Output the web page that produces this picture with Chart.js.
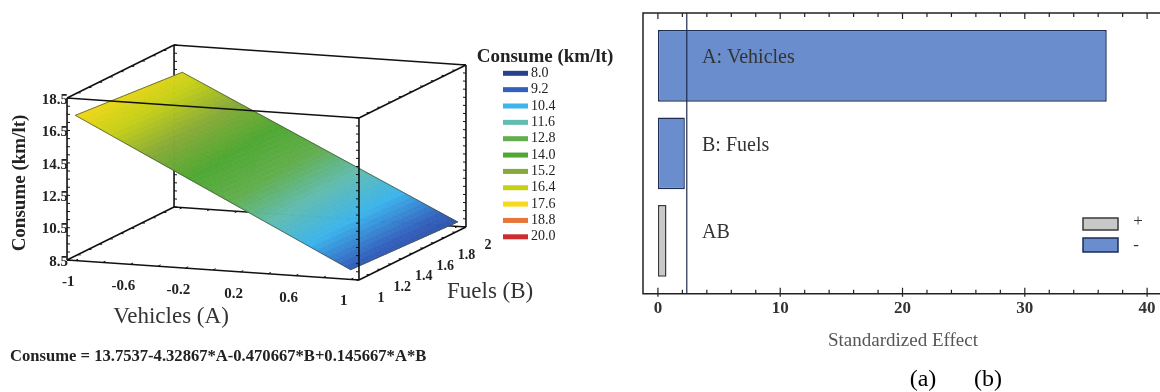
<!DOCTYPE html>
<html>
<head>
<meta charset="utf-8">
<script src="https://cdn.jsdelivr.net/npm/chart.js@4.4.1/dist/chart.umd.min.js"></script>
<style>
  html, body { margin: 0; padding: 0; background: #fff; }
  body { width: 1160px; height: 392px; overflow: hidden; position: relative;
         font-family: "Liberation Serif", "DejaVu Serif", serif; }
  #surfWrap { position: absolute; left: 0; top: 0; width: 630px; height: 392px; }
  #paretoWrap { position: absolute; left: 630px; top: 0; width: 545px; height: 392px; }
  #equation { position: absolute; left: 10px; top: 346px; font-weight: bold; font-size: 16.6px;
              color: #222; white-space: nowrap; }
  .cap { position: absolute; top: 365px; font-size: 24px; color: #000; transform: translateX(-50%); }
</style>
</head>
<body>
<div id="surfWrap"><canvas id="surface" width="630" height="392"></canvas></div>
<div id="paretoWrap"><canvas id="pareto" width="545" height="392"></canvas></div>
<div id="equation"></div>
<div class="cap" style="left:923px">(a)</div>
<div class="cap" style="left:988px">(b)</div>

<script>
// ---------- response surface: Consume vs Vehicles (A) and Fuels (B) ----------
const vehicleTicks = [-1, -0.6, -0.2, 0.2, 0.6, 1];
const fuelTicks = [1, 1.2, 1.4, 1.6, 1.8, 2];
const consumeTicks = [8.5, 10.5, 12.5, 14.5, 16.5, 18.5];
const vehicleRange = [-1, 1];
const fuelRange = [1, 2];
// fitted model: Consume = c0 + c1*A + c2*B + c3*A*B
const modelCoefs = [13.7537, -4.32867, -0.470667, 0.145667];
const legendLevels = [8.0, 9.2, 10.4, 11.6, 12.8, 14.0, 15.2, 16.4, 17.6, 18.8, 20.0];
const legendColors = ['#28408e', '#3460bc', '#3cb4ec', '#62bcb0', '#62ae4c', '#4ea832',
                      '#86aa38', '#c6d018', '#f8d81a', '#e8763a', '#cc2c30'];

// ---------- Pareto chart of standardized effects ----------
const effectNames = ['A: Vehicles', 'B: Fuels', 'AB'];
const effectValues = [36.7, 2.2, 0.7];
const effectSigns = ['-', '-', '+'];
const effectCritical = 2.36;
const effectTicks = [0, 10, 20, 30, 40];

const SERIF = '"Liberation Serif", "DejaVu Serif", serif';
Chart.defaults.font.family = SERIF;

function fmtCoef(v) { return (v >= 0 ? '+' : '') + v; }
function consume(a, b) {
  const [c0, c1, c2, c3] = modelCoefs;
  return c0 + c1 * a + c2 * b + c3 * a * b;
}
document.getElementById('equation').textContent =
  'Consume = ' + modelCoefs[0] + fmtCoef(modelCoefs[1]) + '*A' + fmtCoef(modelCoefs[2]) + '*B' +
  fmtCoef(modelCoefs[3]) + '*A*B';

// oblique view of the (A, B, Consume) box onto the canvas plane
const view = { ox: 213, oy: 270, ax: 137.7, ay: 9.43, bx: 107, by: -53, zy: -16.2 };
const box = { a: [-1.06, 1.06], b: [1, 2], z: [8.5, 18.5] };
function project(a, b, z) {
  return { x: view.ox + view.ax * a + view.bx * (b - box.b[0]),
           y: view.oy + view.ay * a + view.by * (b - box.b[0]) + view.zy * (z - box.z[0]) };
}

function hexRgb(h) { const n = parseInt(h.slice(1), 16); return [n >> 16 & 255, n >> 8 & 255, n & 255]; }
const legendRgb = legendColors.map(hexRgb);
function consumeColor(z) {
  const L = legendLevels;
  if (z <= L[0]) return 'rgb(' + legendRgb[0] + ')';
  if (z >= L[L.length - 1]) return 'rgb(' + legendRgb[L.length - 1] + ')';
  let i = 0; while (z > L[i + 1]) i++;
  const t = (z - L[i]) / (L[i + 1] - L[i]);
  const c = legendRgb[i].map((v, k) => Math.round(v + (legendRgb[i + 1][k] - v) * t));
  return 'rgb(' + c + ')';
}

const [A0, A1] = box.a, [B0, B1] = box.b, [Z0, Z1] = box.z;
const frontEdges = [
  [[A0, B0, Z0], [A0, B0, Z1]], [[A1, B0, Z0], [A1, B0, Z1]],
  [[A0, B0, Z0], [A1, B0, Z0]], [[A0, B0, Z1], [A1, B0, Z1]],
  [[A0, B0, Z1], [A0, B1, Z1]], [[A1, B0, Z1], [A1, B1, Z1]],
  [[A0, B1, Z1], [A1, B1, Z1]], [[A1, B0, Z0], [A1, B1, Z0]],
  [[A1, B1, Z0], [A1, B1, Z1]]
];
const backEdges = [
  [[A0, B1, Z0], [A0, B1, Z1]], [[A0, B1, Z0], [A1, B1, Z0]], [[A0, B0, Z0], [A0, B1, Z0]]
];
function edgeDataset(e) {
  return { data: e.map(p => project(...p)), showLine: true, pointRadius: 0,
           borderColor: '#111', borderWidth: 1.6 };
}

// surface boundary traced through the fitted model
const NA = 48, NB = 24;
const aStep = (vehicleRange[1] - vehicleRange[0]) / NA;
const bStep = (fuelRange[1] - fuelRange[0]) / NB;
const outline = [];
for (let i = 0; i <= NA; i++) { const a = vehicleRange[0] + i * aStep; outline.push(project(a, fuelRange[0], consume(a, fuelRange[0]))); }
for (let j = 1; j <= NB; j++) { const b = fuelRange[0] + j * bStep; outline.push(project(vehicleRange[1], b, consume(vehicleRange[1], b))); }
for (let i = NA - 1; i >= 0; i--) { const a = vehicleRange[0] + i * aStep; outline.push(project(a, fuelRange[1], consume(a, fuelRange[1]))); }
for (let j = NB - 1; j >= 0; j--) { const b = fuelRange[0] + j * bStep; outline.push(project(vehicleRange[0], b, consume(vehicleRange[0], b))); }

function tickMarks(ctx, sx, sy, e, dir, values, len) {
  // e: value -> [a, b, z] on the edge; dir: direction in model space the tick points to
  values.forEach(v => {
    const p = e(v);
    const P = project(...p);
    const q = project(p[0] + dir[0], p[1] + dir[1], p[2]);
    const dx = q.x - P.x, dy = q.y - P.y, d = Math.hypot(dx, dy);
    const x1 = sx.getPixelForValue(P.x), y1 = sy.getPixelForValue(P.y);
    ctx.beginPath(); ctx.moveTo(x1, y1);
    ctx.lineTo(x1 + dx / d * len, y1 + dy / d * len); ctx.stroke();
  });
}
function range(s, e, st) { const r = []; for (let v = s; v <= e + 1e-9; v += st) r.push(+v.toFixed(4)); return r; }

const surfacePlugin = {
  id: 'surfaceShading',
  beforeDatasetDraw(chart, args) {
    if (chart.data.datasets[args.index].label !== 'surface') return;
    const { ctx, scales: { x: sx, y: sy } } = chart;
    const px = p => [sx.getPixelForValue(p.x), sy.getPixelForValue(p.y)];
    ctx.save();
    // ticks on edges lying behind the surface
    ctx.strokeStyle = '#111'; ctx.lineWidth = 1;
    tickMarks(ctx, sx, sy, z => [A0, B1, z], [1, 0], range(8.5, 18.5, 0.5), 3);
    tickMarks(ctx, sx, sy, a => [a, B1, Z0], [0, -1], range(-1, 1, 0.2), 3);
    tickMarks(ctx, sx, sy, b => [A0, b, Z0], [1, 0], range(1, 2, 0.1), 3);
    for (let i = 0; i < NA; i++) {
      for (let j = 0; j < NB; j++) {
        const a = vehicleRange[0] + i * aStep, b = fuelRange[0] + j * bStep;
        const c = [[a, b], [a + aStep, b], [a + aStep, b + bStep], [a, b + bStep]];
        const zs = c.map(([u, w]) => consume(u, w));
        const pts = c.map(([u, w], k) => px(project(u, w, zs[k])));
        const col = consumeColor((zs[0] + zs[1] + zs[2] + zs[3]) / 4);
        ctx.fillStyle = col; ctx.strokeStyle = col; ctx.lineWidth = 0.7;
        ctx.beginPath(); ctx.moveTo(...pts[0]);
        for (let k = 1; k < 4; k++) ctx.lineTo(...pts[k]);
        ctx.closePath(); ctx.fill(); ctx.stroke();
      }
    }
    ctx.restore();
  },
  afterDatasetsDraw(chart) {
    const { ctx, scales: { x: sx, y: sy } } = chart;
    const px = p => [sx.getPixelForValue(p.x), sy.getPixelForValue(p.y)];
    ctx.save();
    ctx.strokeStyle = '#111'; ctx.lineWidth = 1;
    tickMarks(ctx, sx, sy, z => [A0, B0, z], [1, 0], range(8.5, 18.5, 0.5), 3);
    tickMarks(ctx, sx, sy, z => [A1, B0, z], [-1, 0], range(8.5, 18.5, 0.5), 3);
    tickMarks(ctx, sx, sy, z => [A1, B1, z], [-1, 0], range(8.5, 18.5, 0.5), 3);
    tickMarks(ctx, sx, sy, a => [a, B0, Z0], [0, 1], range(-1, 1, 0.2), 3);
    tickMarks(ctx, sx, sy, b => [A1, b, Z0], [-1, 0], range(1, 2, 0.1), 3);
    tickMarks(ctx, sx, sy, b => [A0, b, Z1], [1, 0], range(1, 2, 0.1), 3);
    tickMarks(ctx, sx, sy, b => [A1, b, Z1], [-1, 0], range(1, 2, 0.1), 3);

    ctx.fillStyle = '#222';
    // Consume ticks on the front-left edge
    ctx.font = 'bold 15px ' + SERIF; ctx.textAlign = 'right'; ctx.textBaseline = 'middle';
    consumeTicks.forEach(z => { const [x, y] = px(project(A0, B0, z)); ctx.fillText(z.toFixed(1), x + 1, y + 2); });
    // Vehicles ticks along the front-bottom edge
    ctx.textAlign = 'center';
    vehicleTicks.forEach(a => { const [x, y] = px(project(a, B0, Z0)); ctx.fillText(String(a), x - 7, y + 22); });
    // Fuels ticks along the right-bottom edge
    ctx.font = 'bold 14px ' + SERIF;
    fuelTicks.forEach(b => { const [x, y] = px(project(A1, b, Z0)); ctx.fillText(String(b), x + 22, y + 18); });

    // axis titles
    ctx.font = '23px ' + SERIF; ctx.fillStyle = '#333';
    ctx.fillText('Vehicles (A)', 171, 317);
    ctx.textAlign = 'left';
    ctx.fillText('Fuels (B)', 447, 292);
    ctx.save();
    ctx.translate(20, 183); ctx.rotate(-Math.PI / 2);
    ctx.font = 'bold 19px ' + SERIF; ctx.textAlign = 'center'; ctx.fillStyle = '#222';
    ctx.fillText('Consume (km/lt)', 0, 0);
    ctx.restore();

    // colour legend
    ctx.font = 'bold 19px ' + SERIF; ctx.textAlign = 'center'; ctx.fillStyle = '#222';
    ctx.fillText('Consume (km/lt)', 545, 57);
    ctx.font = '14px ' + SERIF; ctx.textAlign = 'left';
    legendLevels.forEach((lv, i) => {
      const yc = 73.3 + i * 16.35;
      ctx.fillStyle = legendColors[i];
      ctx.fillRect(503, yc - 2.5, 25, 5);
      ctx.fillStyle = '#222';
      ctx.fillText(lv.toFixed(1), 531, yc);
    });
    ctx.restore();
  }
};

new Chart(document.getElementById('surface'), {
  type: 'scatter',
  data: {
    datasets: [
      ...frontEdges.map(edgeDataset),
      { label: 'surface', data: outline, showLine: true, pointRadius: 0,
        borderColor: 'rgba(70,80,60,0.75)', borderWidth: 1 },
      ...backEdges.map(edgeDataset)
    ]
  },
  options: {
    responsive: false, animation: false,
    layout: { padding: 0 },
    plugins: { legend: { display: false }, tooltip: { enabled: false } },
    scales: {
      x: { type: 'linear', min: 0, max: 630, display: false },
      y: { type: 'linear', min: 0, max: 392, reverse: true, display: false }
    }
  },
  plugins: [surfacePlugin]
});

// ---------- Pareto chart ----------
const paretoPlugin = {
  id: 'paretoFrame',
  afterDatasetsDraw(chart) {
    const { ctx, chartArea: { left, top, right, bottom }, scales: { x, y } } = chart;
    ctx.save();
    // critical value line
    const cx = x.getPixelForValue(effectCritical);
    ctx.strokeStyle = '#1d2b4f'; ctx.lineWidth = 1.2;
    ctx.beginPath(); ctx.moveTo(cx, top); ctx.lineTo(cx, bottom); ctx.stroke();
    // effect names
    ctx.font = '20px ' + SERIF; ctx.fillStyle = '#333'; ctx.textBaseline = 'middle'; ctx.textAlign = 'left';
    effectNames.forEach((n, i) => ctx.fillText(n, left + 59, y.getPixelForValue(i) - 8));
    // frame
    ctx.strokeStyle = '#222'; ctx.lineWidth = 1.5;
    ctx.beginPath();
    ctx.moveTo(right + 2, top); ctx.lineTo(left, top); ctx.lineTo(left, bottom); ctx.lineTo(right + 2, bottom);
    ctx.stroke();
    // inner ticks every 2 units
    ctx.lineWidth = 1.2;
    for (let v = 0; v <= 40; v += 2) {
      const p = x.getPixelForValue(v), major = v % 10 === 0;
      ctx.beginPath();
      ctx.moveTo(p, top); ctx.lineTo(p, top + (major ? 6 : 4));
      ctx.moveTo(p, bottom + (major ? 3 : 0)); ctx.lineTo(p, bottom - (major ? 6 : 4));
      ctx.stroke();
    }
    // sign legend
    const lx = right - 80;
    ctx.lineWidth = 1.5;
    ctx.fillStyle = '#c8c8c8'; ctx.strokeStyle = '#3a3a3a';
    ctx.fillRect(lx, 218, 35, 12); ctx.strokeRect(lx, 218, 35, 12);
    ctx.fillStyle = '#6a8dcd'; ctx.strokeStyle = '#1e2d55';
    ctx.fillRect(lx, 238, 35, 14); ctx.strokeRect(lx, 238, 35, 14);
    ctx.font = '17px ' + SERIF; ctx.fillStyle = '#333'; ctx.textAlign = 'center';
    ctx.fillText('+', lx + 55, 222);
    ctx.fillText('-', lx + 53, 246);
    ctx.restore();
  }
};

new Chart(document.getElementById('pareto'), {
  type: 'bar',
  data: {
    datasets: [{
      data: effectValues.map((v, i) => ({ x: v, y: i })),
      backgroundColor: effectSigns.map(s => s === '+' ? '#c8c8c8' : '#6a8dcd'),
      borderColor: effectSigns.map(s => s === '+' ? '#3a3a3a' : '#1e2d55'),
      borderWidth: 1.5, borderSkipped: false,
      barPercentage: 0.82, categoryPercentage: 1
    }]
  },
  options: {
    indexAxis: 'y', responsive: false, animation: false,
    layout: { padding: { left: 13, top: 13, right: 12, bottom: 39.6 } },
    plugins: { legend: { display: false }, tooltip: { enabled: false } },
    scales: {
      y: { type: 'linear', min: -0.604, max: 2.604, reverse: true, display: false, offset: false,
           afterBuildTicks: s => { s.ticks = effectNames.map((_, i) => ({ value: i })); } },
      x: {
        type: 'linear', min: -1.22, max: 41.3,
        afterBuildTicks: s => { s.ticks = effectTicks.map(v => ({ value: v })); },
        grid: { display: false, drawTicks: false },
        border: { display: false },
        ticks: { padding: 5, color: '#333', font: { size: 17, weight: 'bold' } },
        title: { display: true, text: 'Standardized Effect', color: '#555',
                 font: { size: 19 }, padding: { top: 5.4, bottom: 0 } }
      }
    }
  },
  plugins: [paretoPlugin]
});
</script>
</body>
</html>
